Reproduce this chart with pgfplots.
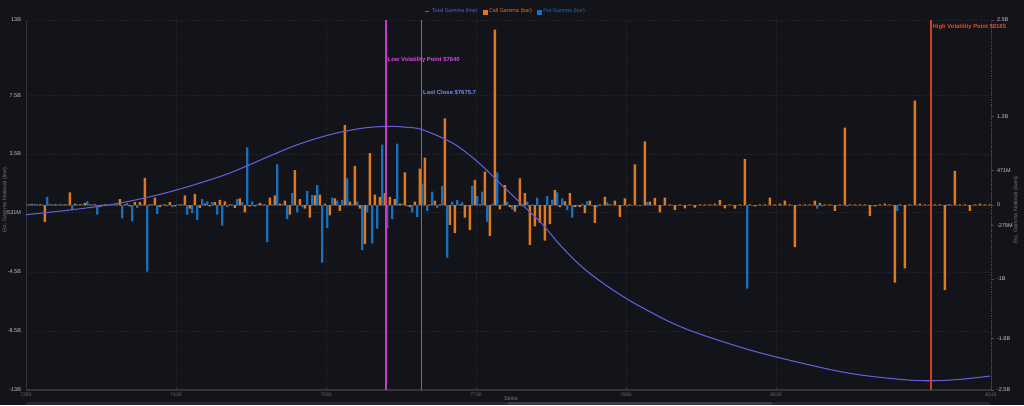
\documentclass[border=0pt]{standalone}
\usepackage{pgfplots}
\pgfplotsset{compat=1.18}
\usepackage{pgfplotstable}
\usepackage{fontspec}
\setmainfont{Liberation Sans}
\definecolor{bg}{RGB}{19,20,25}
\definecolor{callc}{RGB}{224,121,29}
\definecolor{putc}{RGB}{22,112,190}
\definecolor{totc}{RGB}{98,92,214}
\definecolor{lowc}{RGB}{196,58,206}
\definecolor{lastcol}{RGB}{92,108,224}
\definecolor{highcol}{RGB}{214,62,28}
\definecolor{lowt}{RGB}{210,72,222}
\definecolor{lastt}{RGB}{120,140,240}
\definecolor{hight}{RGB}{236,72,32}
\definecolor{axisc}{RGB}{52,53,58}
\definecolor{raxc}{RGB}{72,73,78}
\definecolor{zeroc}{RGB}{80,81,88}
\definecolor{gridc}{RGB}{40,41,47}
\definecolor{tickc}{RGB}{196,196,200}
\definecolor{xtickc}{RGB}{105,106,112}
\definecolor{labc}{RGB}{120,121,128}
\definecolor{scrollc}{RGB}{38,39,44}
\definecolor{thumbc}{RGB}{58,59,64}

\pgfplotstableread{
s c p
7280 0.01 0.01
7285 0.01 0.02
7290 0.01 0.01
7295 0.01 0.01
7300 -0.23 0.11
7305 0.01 0.01
7310 0.01 0.01
7315 0.01 0.01
7320 0.01 0.01
7325 0.17 -0.07
7330 0.02 0.01
7335 0.01 0.01
7340 0.03 0.05
7345 0.01 0.01
7350 0.01 -0.13
7355 -0.03 0.01
7360 0.01 0.01
7365 0.01 0.01
7370 0.01 0.01
7375 0.08 -0.18
7380 0.01 0.03
7385 -0.02 -0.22
7390 0.04 -0.04
7395 0.04 0.01
7400 0.365 -0.90
7405 0.01 0.01
7410 0.10 -0.12
7415 -0.03 0.01
7420 0.01 -0.02
7425 0.04 -0.03
7430 -0.02 0.01
7435 0.01 0.01
7440 0.13 -0.13
7445 -0.05 -0.11
7450 0.15 -0.20
7455 -0.04 0.08
7460 0.02 0.05
7465 -0.02 0.04
7470 0.04 -0.13
7475 0.07 -0.28
7480 0.05 -0.03
7485 0.01 0.01
7490 -0.04 0.08
7495 0.09 0.04
7500 -0.10 0.78
7505 -0.02 0.05
7510 -0.02 0.01
7515 0.03 0.01
7520 0.01 -0.50
7525 0.10 0.01
7530 0.13 0.55
7535 0.02 0.01
7540 0.06 -0.19
7545 -0.13 0.16
7550 0.47 -0.10
7555 0.08 -0.03
7560 -0.05 0.19
7565 -0.17 0.135
7570 0.13 0.27
7575 0.14 -0.78
7580 0.02 -0.31
7585 -0.14 0.10
7590 0.09 0.06
7595 -0.08 0.07
7600 1.08 0.36
7605 0.045 0.01
7610 0.53 0.05
7615 -0.05 -0.61
7620 -0.53 -0.10
7625 0.70 -0.52
7630 0.14 -0.32
7635 0.11 0.815
7640 0.16 -0.32
7645 0.11 -0.19
7650 0.08 0.83
7655 0.02 0.02
7660 0.44 -0.02
7665 -0.03 -0.10
7670 0.045 -0.16
7675 0.49 0.29
7680 0.64 -0.08
7685 0.01 0.18
7690 0.06 -0.04
7695 0.01 0.26
7700 1.17 -0.71
7705 -0.27 0.045
7710 -0.38 0.07
7715 0.01 0.035
7720 -0.17 -0.02
7725 -0.34 0.26
7730 0.34 0.12
7735 0.01 0.18
7740 0.45 -0.225
7745 -0.42 0.02
7750 2.37 0.44
7755 -0.06 0.01
7760 0.27 0.045
7765 -0.03 -0.06
7770 -0.09 -0.03
7775 0.36 -0.02
7780 0.16 0.045
7785 -0.54 0.01
7790 -0.29 0.10
7795 -0.24 -0.01
7800 -0.48 0.12
7805 -0.26 0.07
7810 0.20 0.17
7815 -0.03 0.09
7820 0.05 -0.07
7825 0.16 -0.17
7830 -0.03 -0.02
7835 -0.03 0.02
7840 -0.11 0.05
7845 0.06 -0.02
7850 -0.24 -0.03
7855 0.01 0
7860 0.11 0.035
7865 0.01 0
7870 0.06 0
7875 -0.16 -0.01
7880 0.09 -0.02
7885 0.01 0
7890 0.55 0
7895 -0.01 0
7900 0.86 0.04
7905 0.045 0
7910 0.095 0
7915 -0.10 0
7920 0.10 0
7925 0.01 -0.01
7930 -0.07 0
7935 0.01 0
7940 -0.045 0
7945 0.01 0
7950 -0.035 0
7955 0.01 0
7960 0.01 0
7965 0.01 0
7970 0.02 0
7975 0.07 0
7980 -0.045 0
7985 0.01 0
7990 -0.05 0
7995 0.01 0
8000 0.62 -1.13
8005 0.01 0
8010 -0.02 0
8015 0.01 0
8020 0.01 0
8025 0.10 0
8030 0.01 0
8035 0.02 0
8040 0.06 0
8045 0.01 0
8050 -0.57 0
8055 0.01 0
8060 0.01 0
8065 0.01 0
8070 0.06 -0.05
8075 0.03 -0.02
8080 0.01 0
8085 0.01 0
8090 -0.08 0
8095 0.01 0
8100 1.045 -0.02
8105 0.01 0
8110 0.01 0
8115 0.01 0
8120 0.01 0
8125 -0.15 0
8130 -0.02 0
8135 0.01 0
8140 0.02 0
8145 0.01 0
8150 -1.05 -0.08
8155 0.01 0
8160 -0.855 0
8165 0.01 0
8170 1.41 0
8175 0.02 0
8180 0.01 0
8185 0.01 0
8190 0.01 0
8195 0.01 0
8200 -1.15 0.01
8205 0.01 0
8210 0.46 0
8215 0.01 0
8220 0.01 0
8225 -0.08 0
8230 0.01 0
8235 0.02 0
8240 0.01 0
8245 0.01 0
}\bars

\pgfplotstableread{
s v
7280 -0.68
7324 -0.35
7374 0.14
7424 0.93
7474 2.00
7501 2.75
7524 3.45
7552 4.25
7586 4.98
7619 5.42
7644 5.52
7659 5.47
7676 5.30
7704 4.45
7721 3.65
7737 2.69
7754 1.52
7771 0.38
7787 -0.70
7794 -1.17
7804 -1.97
7814 -2.81
7834 -4.22
7854 -5.34
7880 -6.56
7904 -7.50
7927 -8.32
7954 -9.07
8004 -10.19
8054 -11.08
8104 -11.83
8154 -12.25
8184 -12.35
8214 -12.25
8244 -12.02
}\gammaline

\newcommand\ytf{\fontsize{5.5}{6}\selectfont}
\newcommand\xtf{\fontsize{5}{6}\selectfont}
\newcommand\ltf{\fontsize{5.4}{6}\selectfont}
\newcommand\atf{\fontsize{5.9}{7}\selectfont\bfseries}

\begin{document}
\begin{tikzpicture}[x=1pt,y=1pt]
\fill[bg] (0,0) rectangle (1024,405);
\path[use as bounding box] (0,0) rectangle (1024,405);
\fill[scrollc] (26,0) rectangle (990,2.6);
\fill[thumbc] (508,0) rectangle (772,2.6);

% axis A: grid, x axis, left axis, legend
\begin{axis}[
  at={(26pt,15pt)}, anchor=south west, scale only axis,
  width=965pt, height=370pt,
  xmin=7280, xmax=8245, ymin=-13, ymax=13,
  axis x line*=bottom, axis y line*=left,
  axis line style={-, draw=axisc},
  x axis line style={line width=1.4pt},
  y axis line style={line width=0.8pt},
  xtick={7280,7430,7580,7730,7880,8030,8245},
  xticklabels={7280,7430,7580,7730,7880,8030,8245},
  ytick={-13,-8.85,-4.7,-0.531,3.6,7.7,13},
  yticklabels={-13B,-8.5B,-4.5B,-531M,3.5B,7.5B,13B},
  xticklabel style={font=\xtf, text=xtickc, yshift=0.5pt},
  yticklabel style={font=\ytf, text=tickc, xshift=-1.5pt},
  x tick style={draw=axisc, line width=0.6pt},
  y tick style={draw=none},
  tick align=inside, major tick length=3pt,
  grid=major,
  major grid style={dotted, draw=gridc, line width=0.5pt},
  legend columns=3,
  legend style={at={(0.4974,1.0224)}, anchor=center, draw=none, fill=none,
    font=\ltf, inner sep=0pt,
    /tikz/every even column/.append style={column sep=3pt}},
  legend cell align=left,
]
\addlegendimage{legend image code/.code={\draw[totc, line width=1pt] (0pt,0pt) -- (4pt,0pt);}}
\addlegendentry{\textcolor{totc}{Total Gamma (line)}}
\addlegendimage{legend image code/.code={\fill[callc] (0pt,-2pt) rectangle (4pt,2pt);}}
\addlegendentry{\textcolor{callc}{Call Gamma (bar)}}
\addlegendimage{legend image code/.code={\fill[putc] (0pt,-2pt) rectangle (4pt,2pt);}}
\addlegendentry{\textcolor{putc}{Put Gamma (bar)}}
\end{axis}

% axis B: bars on the right axis
\begin{axis}[
  at={(26pt,15pt)}, anchor=south west, scale only axis,
  width=965pt, height=370pt,
  xmin=7280, xmax=8245, ymin=-2.5, ymax=2.5,
  axis x line=none, axis y line*=right,
  axis line style={-, draw=raxc, densely dotted, line width=0.7pt},
  ytick={-2.5,-1.8,-1,-0.279,0,0.471,1.2,2.5},
  yticklabels={-2.5B,-1.8B,-1B,-279M,0,471M,1.2B,2.5B},
  yticklabel style={font=\ytf, text=tickc},
  y tick style={draw=raxc, line width=0.6pt, solid},
  tick align=outside, major tick length=2.5pt,
  xtick=\empty,
]
\draw[densely dotted, draw=zeroc, line width=0.6pt] (axis cs:7280,0) -- (axis cs:8245,0);
\addplot[ybar, bar width=2.4pt, bar shift=-1.2pt, fill=callc, draw=none] table[x=s, y=c] {\bars};
\addplot[ybar, bar width=2.4pt, bar shift=1.2pt, fill=putc, draw=none] table[x=s, y=p] {\bars};
\end{axis}

% axis C: line, markers, annotations
\begin{axis}[
  at={(26pt,15pt)}, anchor=south west, scale only axis,
  width=965pt, height=370pt,
  xmin=7280, xmax=8245, ymin=-13, ymax=13,
  hide axis, clip=false,
]
\addplot[draw=totc, line width=1.1pt, smooth, tension=0.6] table[x=s, y=v] {\gammaline};
\addplot[draw=lowc, line width=1.2pt] coordinates {(7640,-13) (7640,13)};
\addplot[draw=lastcol, line width=1.3pt] coordinates {(7675.5,-13) (7675.5,13)};
\addplot[draw=highcol, line width=1.2pt] coordinates {(8185,-13) (8185,13)};
\node[anchor=west, inner sep=0pt, font=\atf, text=lowt] at (axis cs:7641.5,10.19) {Low Volatility Point \$7640};
\node[anchor=west, inner sep=0pt, font=\atf, text=lastt] at (axis cs:7677,7.92) {Last Close \$7675.7};
\node[anchor=west, inner sep=0pt, font=\atf, text=hight] at (axis cs:8186.5,12.49) {High Volatility Point \$8185};
\end{axis}

\node[rotate=90, font=\ltf, text=labc] at (5,205) {Est. Gamma Notional (line)};
\node[rotate=90, font=\ltf, text=labc] at (1016,195) {Est. Gamma Notional (bars)};
\node[font=\ltf, text=labc] at (511,6.5) {Strike};
\end{tikzpicture}
\end{document}
